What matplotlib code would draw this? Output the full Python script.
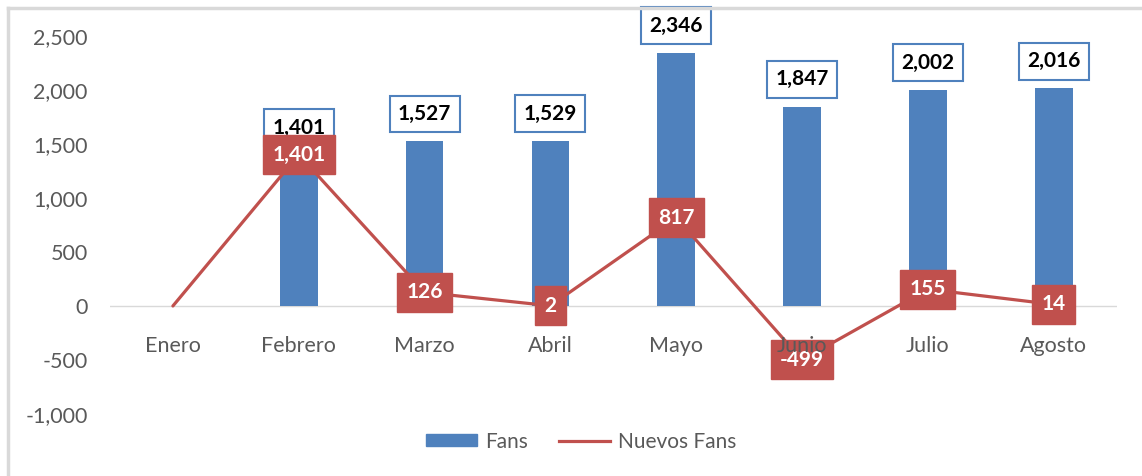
import matplotlib.pyplot as plt
from matplotlib.lines import Line2D

# Datos
meses = ["Enero", "Febrero", "Marzo", "Abril", "Mayo", "Junio", "Julio", "Agosto"]
fans = [0, 1401, 1527, 1529, 2346, 1847, 2002, 2016]
nuevos_fans = [0, 1401, 126, 2, 817, -499, 155, 14]

azul = "#4F81BD"
rojo = "#C0504D"
gris = "#595959"

plt.rcParams["font.family"] = ["Lato", "DejaVu Sans"]

fig = plt.figure(figsize=(11.42, 4.76), dpi=100)
ax = fig.add_axes([0.0963, 0.1303, 0.8815, 0.7941])

x = list(range(len(meses)))

# Barras (Enero sin barra)
ax.bar(x[1:], fans[1:], width=0.3, color=azul, zorder=2)
ax.plot(x, nuevos_fans, color=rojo, lw=2.3, zorder=3, solid_capstyle="round")

ax.set_xlim(-0.5, len(meses) - 0.5)
ax.set_ylim(-1000, 2500)
ax.set_yticks(range(-1000, 2501, 500))
ax.set_yticklabels([f"{v:,}" for v in range(-1000, 2501, 500)], fontsize=15.5, color=gris)
ax.tick_params(axis="y", length=0, pad=16)
ax.tick_params(axis="x", length=0)
ax.set_xticks([])
for sp in ax.spines.values():
    sp.set_visible(False)
ax.axhline(0, color="#D9D9D9", lw=1, zorder=1)

# Etiquetas de mes bajo la línea cero (encima de las cajas, como en Excel)
for xi, m in zip(x, meses):
    ax.text(xi, -370, m, ha="center", va="center", fontsize=15.5, color=gris, zorder=7)

# Etiquetas de Fans
for xi, v in zip(x[1:], fans[1:]):
    ax.annotate(f"{v:,}", (xi, v), xytext=(0, 19.5), textcoords="offset points",
                ha="center", va="center", fontsize=15, fontweight="bold", color="black",
                bbox=dict(boxstyle="square,pad=0.4", fc="white", ec=azul, lw=1.5),
                zorder=5, annotation_clip=False)

# Etiquetas de Nuevos Fans
for xi, v in zip(x[1:], nuevos_fans[1:]):
    ax.text(xi, v, f"{v:,}", ha="center", va="center", fontsize=15, fontweight="bold",
            color="white", bbox=dict(boxstyle="square,pad=0.45", fc=rojo, ec=rojo),
            zorder=6)

# Leyenda
handles = [plt.Rectangle((0, 0), 1, 1, color=azul),
           Line2D([0], [0], color=rojo, lw=2.3)]
leg = fig.legend(handles, ["Fans", "Nuevos Fans"], loc="center", bbox_to_anchor=(0.509, 0.072),
                 ncol=2, frameon=False, fontsize=15, handlelength=2.45, handleheight=0.5,
                 columnspacing=1.45, handletextpad=0.4)
for t in leg.get_texts():
    t.set_color(gris)

# Marco del gráfico
fig.add_artist(Line2D([8 / 1142, 1], [1 - 8 / 476, 1 - 8 / 476], color="#D9D9D9", lw=2.5,
                      transform=fig.transFigure, zorder=10))
fig.add_artist(Line2D([8 / 1142, 8 / 1142], [0, 1 - 8 / 476], color="#D9D9D9", lw=2.5,
                      transform=fig.transFigure, zorder=10))

fig.savefig("out.png", dpi=100)
